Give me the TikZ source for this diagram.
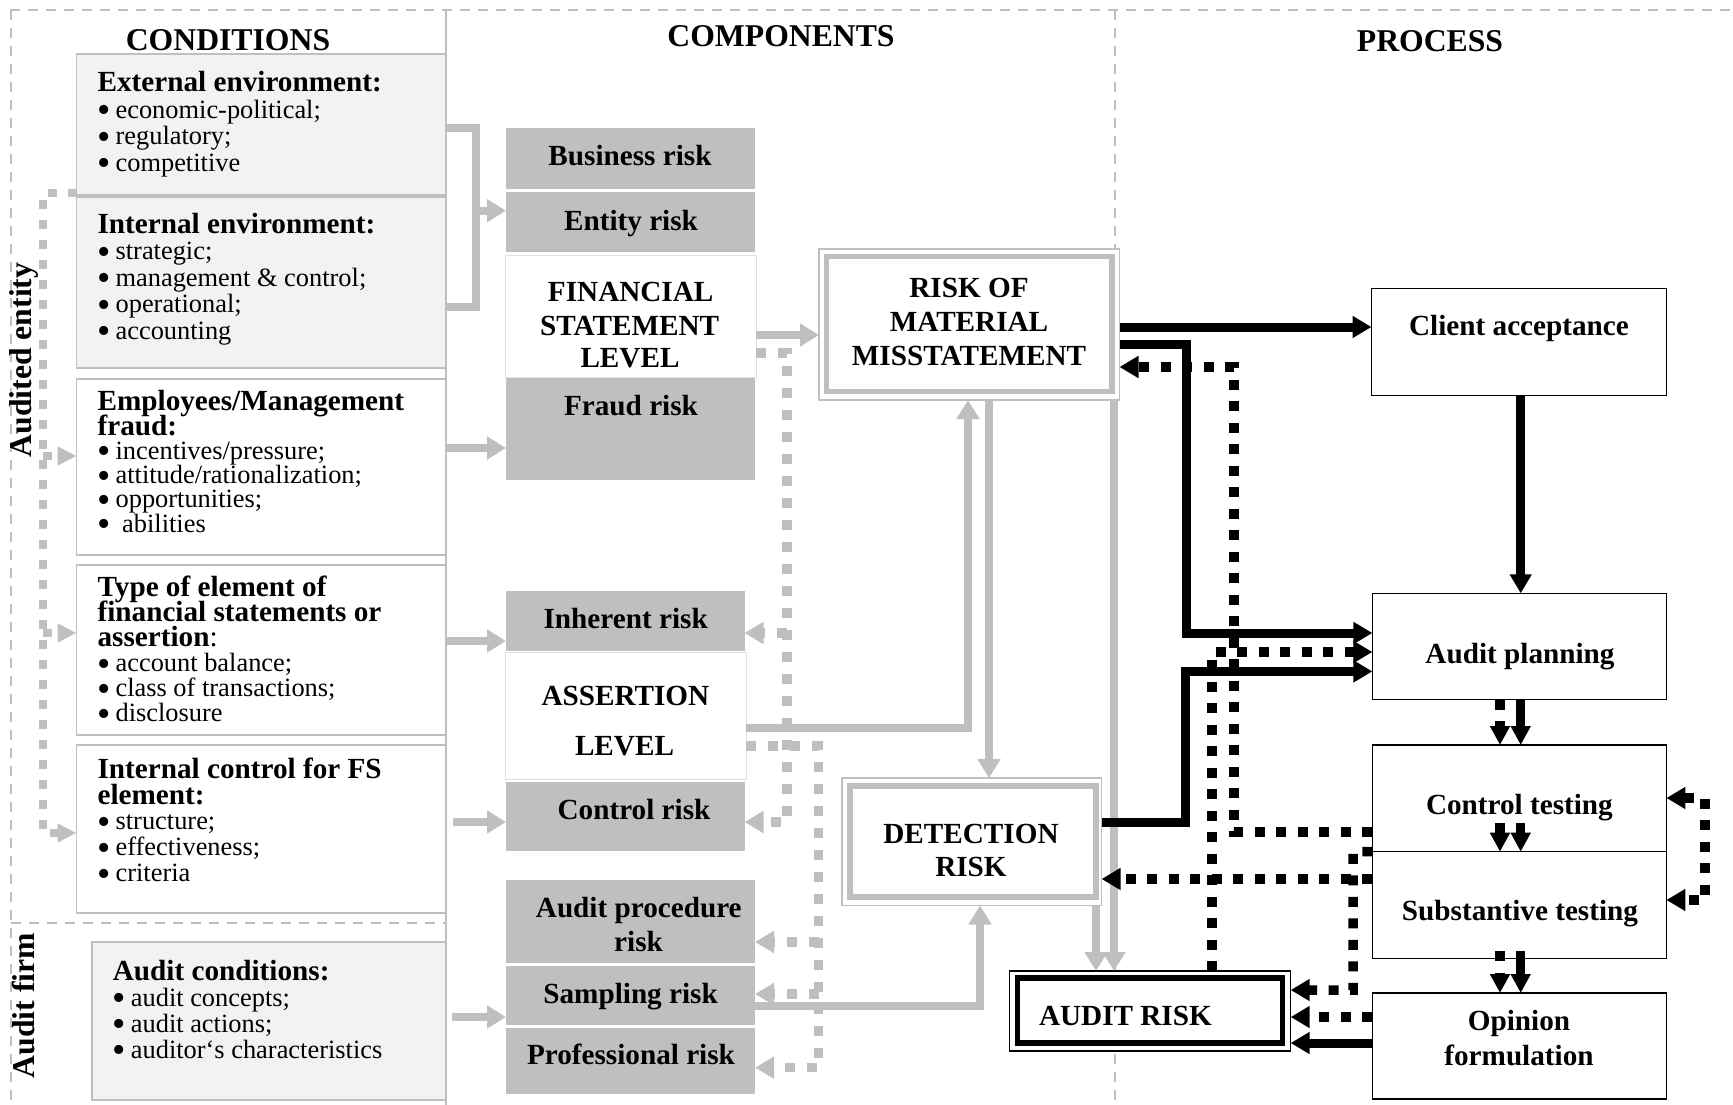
\documentclass[tikz,border=0pt]{standalone}
\usepackage{fontspec}
\setmainfont{Liberation Serif}
\usetikzlibrary{arrows.meta}
\definecolor{gl}{HTML}{BFBFBF}
\definecolor{gf}{HTML}{F2F2F2}
\definecolor{gb}{HTML}{E0E0E0}
\newcommand{\fbd}{\fontsize{29.2}{33.5}\selectfont\bfseries}
\newcommand{\fttl}{\fontsize{31.7}{34}\selectfont\bfseries}
\newcommand{\frg}{\fontsize{26.4}{26.5}\selectfont\mdseries}
\newcommand{\bitem}{\makebox[18pt][l]{\smash{\raisebox{-4.5pt}{\fontsize{38}{0}\selectfont\textbullet}}}}
\newcommand{\ltext}[2]{\parbox[t]{345pt}{\fbd\baselineskip=#1\lineskiplimit=-1000pt\lineskip=0pt #2}}
\begin{document}
\begin{tikzpicture}[x=1pt,y=-1pt,
  every node/.style={inner sep=0pt,outer sep=0pt},
  box/.style={anchor=north west,rectangle},
  lbox/.style={box,draw=gl,line width=1.3pt},
  rbox/.style={box,fill=gl},
  wbox/.style={box,fill=white,draw=gb,line width=1pt},
  pbox/.style={box,draw=black,line width=1.5pt,fill=white},
  frame/.style={draw=gl,line width=2.5pt,dash pattern=on 10pt off 8pt},
  gline/.style={draw=gl,line width=8pt},
  garrow/.style={gline,-{Triangle[length=19pt,width=22pt]}},
  gdot/.style={draw=gl,line width=9.5pt,dash pattern=on 10pt off 12pt},
  gdotarrow/.style={gdot,-{Triangle[length=19pt,width=21pt]}},
  ldotarrow/.style={draw=gl,line width=8.5pt,dash pattern=on 9pt off 11pt,-{Triangle[length=19pt,width=18pt]}},
  barrow/.style={draw=black,line width=9pt,-{Triangle[length=19pt,width=21pt]}},
  parrow/.style={draw=black,line width=9pt,-{Triangle[length=19pt,width=19pt]}},
  bdot/.style={draw=black,line width=9.5pt,dash pattern=on 10pt off 11.5pt},
  bdotarrow/.style={bdot,-{Triangle[length=19pt,width=21pt]}},
  pdotarrow/.style={bdot,-{Triangle[length=19pt,width=19pt]}},
  lab/.style={anchor=base,font=\fbd},
  ttl/.style={anchor=base,font=\fttl}
]
\useasboundingbox (0,0) rectangle (1733,1105);

% frame
\draw[frame] (10,10) -- (1733,10);
\draw[frame] (11,10) -- (11,1105);
\draw[frame] (1115,10) -- (1115,1105);
\draw[frame] (11,923) -- (446,923);
\draw[draw=gl,line width=2pt] (446,10) -- (446,1105);

% titles
\node[ttl] (tcond) at (228,50.5) {CONDITIONS};
\node[ttl] (tcomp) at (781,46.7) {COMPONENTS};
\node[ttl] (tproc) at (1430,51.7) {PROCESS};
\node[font=\fttl,rotate=90] (tentity) at (24,360) {Audited entity};
\node[font=\fttl,rotate=90] (tfirm) at (24,1005.5) {Audit firm};

% left boxes
\node[lbox,fill=gf,minimum width=369.5pt,minimum height=141pt] (l1) at (76.5,54) {};
\node[lbox,fill=gf,minimum width=369.5pt,minimum height=171pt] (l2) at (76.5,197) {};
\node[lbox,fill=white,minimum width=369.5pt,minimum height=176pt] (l3) at (76.5,379) {};
\node[lbox,fill=white,minimum width=369.5pt,minimum height=170pt] (l4) at (76.5,565) {};
\node[lbox,fill=white,minimum width=369.5pt,minimum height=168pt] (l5) at (76.5,745) {};
\node[lbox,fill=gf,minimum width=354pt,minimum height=158pt] (l6) at (92,942) {};

\node[anchor=base west] (t1) at (97.6,91.7) {\ltext{26.5pt}{External environment:\\{\frg\bitem economic-political;}\\{\frg\bitem regulatory;}\\{\frg\bitem competitive}}};
\node[anchor=base west] (t2) at (97.6,233.3) {\ltext{26.5pt}{Internal environment:\\{\frg\bitem strategic;}\\{\frg\bitem management \& control;}\\{\frg\bitem operational;}\\{\frg\bitem accounting}}};
\node[anchor=base west] (t3) at (97.6,410.7) {\ltext{24.3pt}{Employees/Management\\fraud:\\{\frg\bitem incentives/pressure;}\\{\frg\bitem attitude/rationalization;}\\{\frg\bitem opportunities;}\\{\frg\bitem\ abilities}}};
\node[anchor=base west] (t4) at (97.6,596.7) {\ltext{25pt}{Type of element of\\financial statements or\\assertion{\mdseries:}\\{\frg\bitem account balance;}\\{\frg\bitem class of transactions;}\\{\frg\bitem disclosure}}};
\node[anchor=base west] (t5) at (97.6,778.3) {\ltext{25.8pt}{Internal control for FS\\element:\\{\frg\bitem structure;}\\{\frg\bitem effectiveness;}\\{\frg\bitem criteria}}};
\node[anchor=base west] (t6) at (112.9,980) {\ltext{26.1pt}{Audit conditions:\\{\frg\bitem audit concepts;}\\{\frg\bitem audit actions;}\\{\frg\bitem auditor‘s characteristics}}};

% component boxes
\node[rbox,minimum width=249pt,minimum height=61pt] (bus) at (506,128) {};
\node[rbox,minimum width=249pt,minimum height=60pt] (ent) at (506,192) {};
\node[wbox,minimum width=251pt,minimum height=122pt] (fsl) at (505,255) {};
\node[rbox,minimum width=249pt,minimum height=102pt] (fraud) at (506,378) {};
\node[rbox,minimum width=238.5pt,minimum height=59.5pt] (inh) at (506,591) {};
\node[wbox,minimum width=241pt,minimum height=127pt] (al) at (505,652) {};
\node[rbox,minimum width=238.5pt,minimum height=68.9pt] (ctrl) at (506,781.6) {};
\node[rbox,minimum width=249pt,minimum height=83pt] (aproc) at (506,880) {};
\node[rbox,minimum width=249pt,minimum height=59pt] (samp) at (506,966) {};
\node[rbox,minimum width=249pt,minimum height=65.5pt] (prof) at (506,1028) {};

\node[lab] (tbus) at (630,165) {Business risk};
\node[lab] (tent) at (631,230) {Entity risk};
\node[lab] (tfsl1) at (630.7,301) {FINANCIAL};
\node[lab] (tfsl2) at (629.7,335) {STATEMENT};
\node[lab] (tfsl3) at (630,367.7) {LEVEL};
\node[lab] (tfraud) at (631,415) {Fraud risk};
\node[lab] (tinh) at (625.7,628.2) {Inherent risk};
\node[lab] (tal1) at (625.4,705) {ASSERTION};
\node[lab] (tal2) at (624.5,755.7) {LEVEL};
\node[lab] (tctrl) at (634,819.4) {Control risk};
\node[lab] (tap1) at (638.8,917.4) {Audit procedure};
\node[lab] (tap2) at (638.5,951) {risk};
\node[lab] (tsamp) at (630.6,1003.9) {Sampling risk};
\node[lab] (tprof) at (631,1064.9) {Professional risk};

% risk of material misstatement, detection risk, audit risk
\node[box,draw=gl,line width=1.2pt,fill=white,minimum width=300.5pt,minimum height=151pt] (rmm) at (819,249) {};
\draw[gl,line width=5.5pt] (826.5,256.5) rectangle (1112,391.5);
\node[box,draw=gl,line width=1.2pt,fill=white,minimum width=259.6pt,minimum height=127.5pt] (det) at (842,778) {};
\draw[gl,line width=6pt] (850,786) rectangle (1096,897);
\node[box,draw=black,line width=1.5pt,fill=white,minimum width=281.4pt,minimum height=80pt] (ar) at (1009.3,971) {};
\draw[black,line width=5.5pt] (1017.5,978) rectangle (1282.5,1043);

\node[lab] (trmm1) at (969,297.7) {RISK OF};
\node[lab] (trmm2) at (969,331.7) {MATERIAL};
\node[lab] (trmm3) at (969,365) {MISSTATEMENT};
\node[lab] (tdet1) at (971,843.3) {DETECTION};
\node[lab] (tdet2) at (971,876.4) {RISK};
\node[lab,anchor=base west] (tar) at (1039,1025) {AUDIT RISK};

% process boxes
\node[pbox,minimum width=294.9pt,minimum height=107.4pt] (ca) at (1371.5,288.3) {};
\node[pbox,minimum width=294pt,minimum height=106.2pt] (ap) at (1372.4,593.3) {};
\node[pbox,minimum width=294pt,minimum height=106.7pt] (ct) at (1372.4,745) {};
\node[pbox,minimum width=294pt,minimum height=106.6pt] (st) at (1372.4,851.7) {};
\node[pbox,minimum width=294pt,minimum height=106pt] (of) at (1372.4,993) {};

\node[lab] (tca) at (1519,335) {Client acceptance};
\node[lab] (tapl) at (1520,663.3) {Audit planning};
\node[lab] (tct) at (1519.4,814) {Control testing};
\node[lab] (tst) at (1520,920.7) {Substantive testing};
\node[lab] (tof1) at (1519,1030.7) {Opinion};
\node[lab] (tof2) at (1519,1065) {formulation};

% grey solid connectors
\draw[gline] (l1.east |- 0,128) -- (476,128) -- (476,307) -- (l2.east |- 0,307);
\draw[garrow] (476,210.7) -- (ent.west |- 0,210.7);
\draw[garrow] (l3.east |- 0,448) -- (fraud.west |- 0,448);
\draw[garrow] (l4.east |- 0,641) -- (inh.west |- 0,641);
\draw[garrow] (453,822) -- (ctrl.west |- 0,822);
\draw[garrow] (452,1017) -- (samp.west |- 0,1017);
\draw[garrow] (fsl.east |- 0,335) -- (rmm.west |- 0,335);
\draw[garrow] (al.east |- 0,728) -- (968,728) -- (rmm.south -| 968,0);
\draw[garrow] (rmm.south -| 989,0) -- (det.north -| 989,0);
\draw[garrow] (samp.east |- 0,1006) -- (980,1006) -- (det.south -| 980,0);
\draw[garrow] (det.south -| 1096,0) -- (ar.north -| 1096,0);
\draw[garrow] (rmm.south -| 1114,0) -- (ar.north -| 1114,0);

% grey dotted connectors
\draw[gdotarrow] (fsl.east |- 0,353) -- (787,353) -- (787,822) -- (ctrl.east |- 0,822);
\draw[gdotarrow] (787,633) -- (inh.east |- 0,633);
\draw[gdotarrow] (al.east |- 0,746) -- (818.5,746) -- (818.5,1067.6) -- (prof.east |- 0,1067.6);
\draw[gdotarrow] (818.5,942) -- (aproc.east |- 0,942);
\draw[gdotarrow] (818.5,994) -- (samp.east |- 0,994);
\draw[ldotarrow] (l1.west |- 0,193) -- (43,193) -- (43,833) -- (l5.west |- 0,833);
\draw[ldotarrow] (43,456) -- (l3.west |- 0,456);
\draw[ldotarrow] (43,633) -- (l4.west |- 0,633);

% black solid connectors
\draw[barrow] (rmm.east |- 0,327) -- (ca.west |- 0,327);
\draw[barrow] (rmm.east |- 0,344.7) -- (1186,344.7) -- (1186,633) -- (ap.west |- 0,633);
\draw[barrow] (det.east |- 0,822.6) -- (1185,822.6) -- (1185,671.4) -- (ap.west |- 0,671.4);
\draw[barrow] (of.west |- 0,1043) -- (ar.east |- 0,1043);
\draw[barrow] (ca.south -| 1520.7,0) -- (ap.north -| 1520.7,0);
\draw[parrow] (ap.south -| 1520.7,0) -- (ct.north -| 1520.7,0);
\draw[pdotarrow] (ap.south -| 1500,0) -- (ct.north -| 1500,0);
\draw[parrow] (1520.7,823) -- (st.north -| 1520.7,0);
\draw[pdotarrow] (1500,823) -- (st.north -| 1500,0);
\draw[parrow] (1520.7,951) -- (of.north -| 1520.7,0);
\draw[pdotarrow] (1500,951) -- (of.north -| 1500,0);

% black dotted connectors
\draw[bdotarrow] (ct.west |- 0,832) -- (1234,832) -- (1234,367) -- (rmm.east |- 0,367);
\draw[bdotarrow] (ar.north -| 1212,0) -- (1212,652) -- (ap.west |- 0,652);
\draw[bdotarrow] (st.west |- 0,879) -- (det.east |- 0,879);
\draw[bdotarrow] (ct.south west) -- (1353,851.7) -- (1353,990) -- (ar.east |- 0,990);
\draw[bdotarrow] (of.west |- 0,1017) -- (ar.east |- 0,1017);
\draw[bdot,{Triangle[length=19pt,width=21pt]}-{Triangle[length=19pt,width=21pt]}] (ct.east |- 0,798) -- (1705,798) -- (1705,900) -- (st.east |- 0,900);
\end{tikzpicture}
\end{document}
